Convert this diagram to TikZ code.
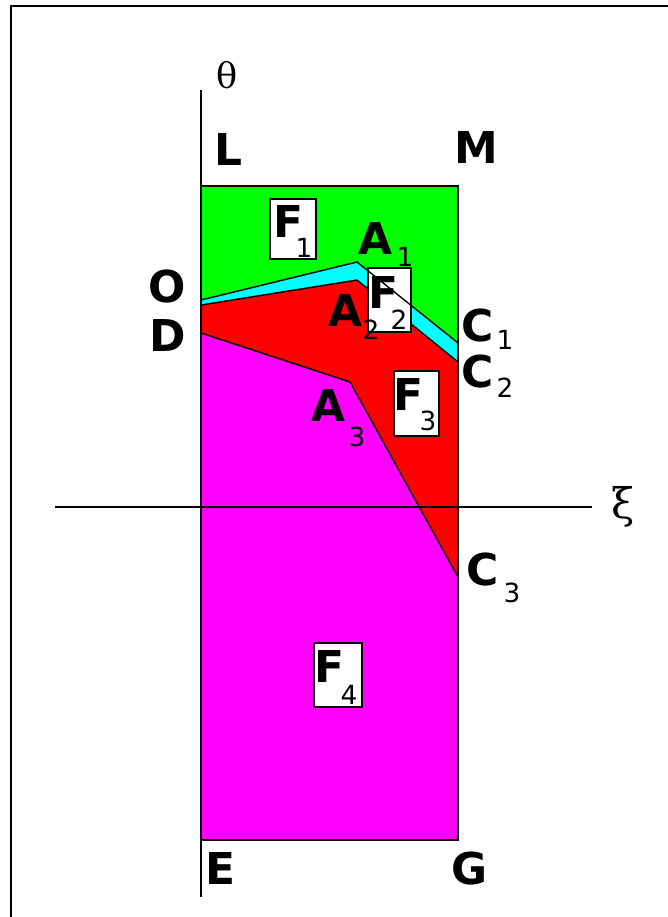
\documentclass[tikz,border=0pt]{standalone}
\usepackage{fontspec}
\setmainfont{DejaVu Sans}
\newfontfamily\greekfont{DejaVu Serif}
\definecolor{regF1}{RGB}{0,255,0}
\definecolor{regF2}{RGB}{0,255,255}
\definecolor{regF3}{RGB}{255,0,0}
\definecolor{regF4}{RGB}{255,0,255}
\begin{document}
\begin{tikzpicture}[x=0.02cm, y=-0.02cm, line width=0.8pt,
  big/.style={font=\fontsize{25}{25}\selectfont\bfseries, inner sep=0pt},
  idx/.style={font=\fontsize{15}{15}\selectfont, inner sep=0pt},
  sym/.style={font=\fontsize{20}{20}\selectfont\greekfont, inner sep=0pt}]
  \useasboundingbox (0,0) rectangle (668,917);
  \draw[line width=1.2pt] (11,917) -- (11,6) -- (668,6);
  \coordinate (L) at (201,186); \coordinate (M) at (458,186); \coordinate (E) at (201,840); \coordinate (G) at (458,840);
  \coordinate (O) at (201,300); \coordinate (P) at (201,305); \coordinate (D) at (201,333);
  \coordinate (A1) at (357,262); \coordinate (A2) at (357,280); \coordinate (A3) at (350,382);
  \coordinate (C1) at (458,343); \coordinate (C2) at (458,362); \coordinate (C3) at (458,577);
  \fill[regF1] (L) -- (M) -- (C1) -- (A1) -- (O) -- cycle;
  \fill[regF2] (O) -- (A1) -- (C1) -- (C2) -- (A2) -- (P) -- cycle;
  \fill[regF3] (P) -- (A2) -- (C2) -- (C3) -- (A3) -- (D) -- cycle;
  \fill[regF4] (D) -- (A3) -- (C3) -- (G) -- (E) -- cycle;
  \draw (P) -- (A2) -- (C2);
  \draw (D) -- (A3) -- (C3);
  \draw (L) rectangle (G);
  % boxes
  \filldraw[fill=white] (270,199) rectangle (316,259);
  \filldraw[fill=white] (368,268) rectangle (411,332);
  \filldraw[fill=white] (394,371) rectangle (439,436);
  \filldraw[fill=white] (314,643) rectangle (362,707);
  \draw (O) -- (A1) -- (C1);
  % axes
  \draw (201,90) -- (201,897);
  \draw (55,507) -- (592,507);
  \node[sym] (theta) at (227,75) {θ};
  \node[sym, font=\fontsize{24}{24}\selectfont\greekfont] (xi) at (623,507) {ξ};
  % labels
  \node[big] (lL) at (228,149) {L};
  \node[big] (lM) at (476,147) {M};
  \node[big] (lE) at (221,868) {E};
  \node[big] (lG) at (470,868) {G};
  \node[big] (lO) at (167,287) {O};
  \node[big] (lD) at (168,335) {D};
  \node[big] (lC1) at (478,326) {C}; \node[idx] (iC1) at (505,340) {1};
  \node[big] (lC2) at (478,372) {C}; \node[idx] (iC2) at (505,388) {2};
  \node[big] (lC3) at (483,570) {C}; \node[idx] (iC3) at (512,593) {3};
  \node[big] (lA1) at (375,238) {A}; \node[idx] (iA1) at (405,257) {1};
  \node[big] (lA2) at (345,310) {A}; \node[idx] (iA2) at (371,330) {2};
  \node[big] (lA3) at (328,405) {A}; \node[idx] (iA3) at (357,437) {3};
  \node[big] (lF1) at (289,221) {F}; \node[idx] (iF1) at (304,248) {1};
  \node[big] (lF2) at (383,292) {F}; \node[idx] (iF2) at (399,320) {2};
  \node[big] (lF3) at (408,394) {F}; \node[idx] (iF3) at (428,421) {3};
  \node[big] (lF4) at (330,666) {F}; \node[idx] (iF4) at (349,695) {4};
\end{tikzpicture}
\end{document}
